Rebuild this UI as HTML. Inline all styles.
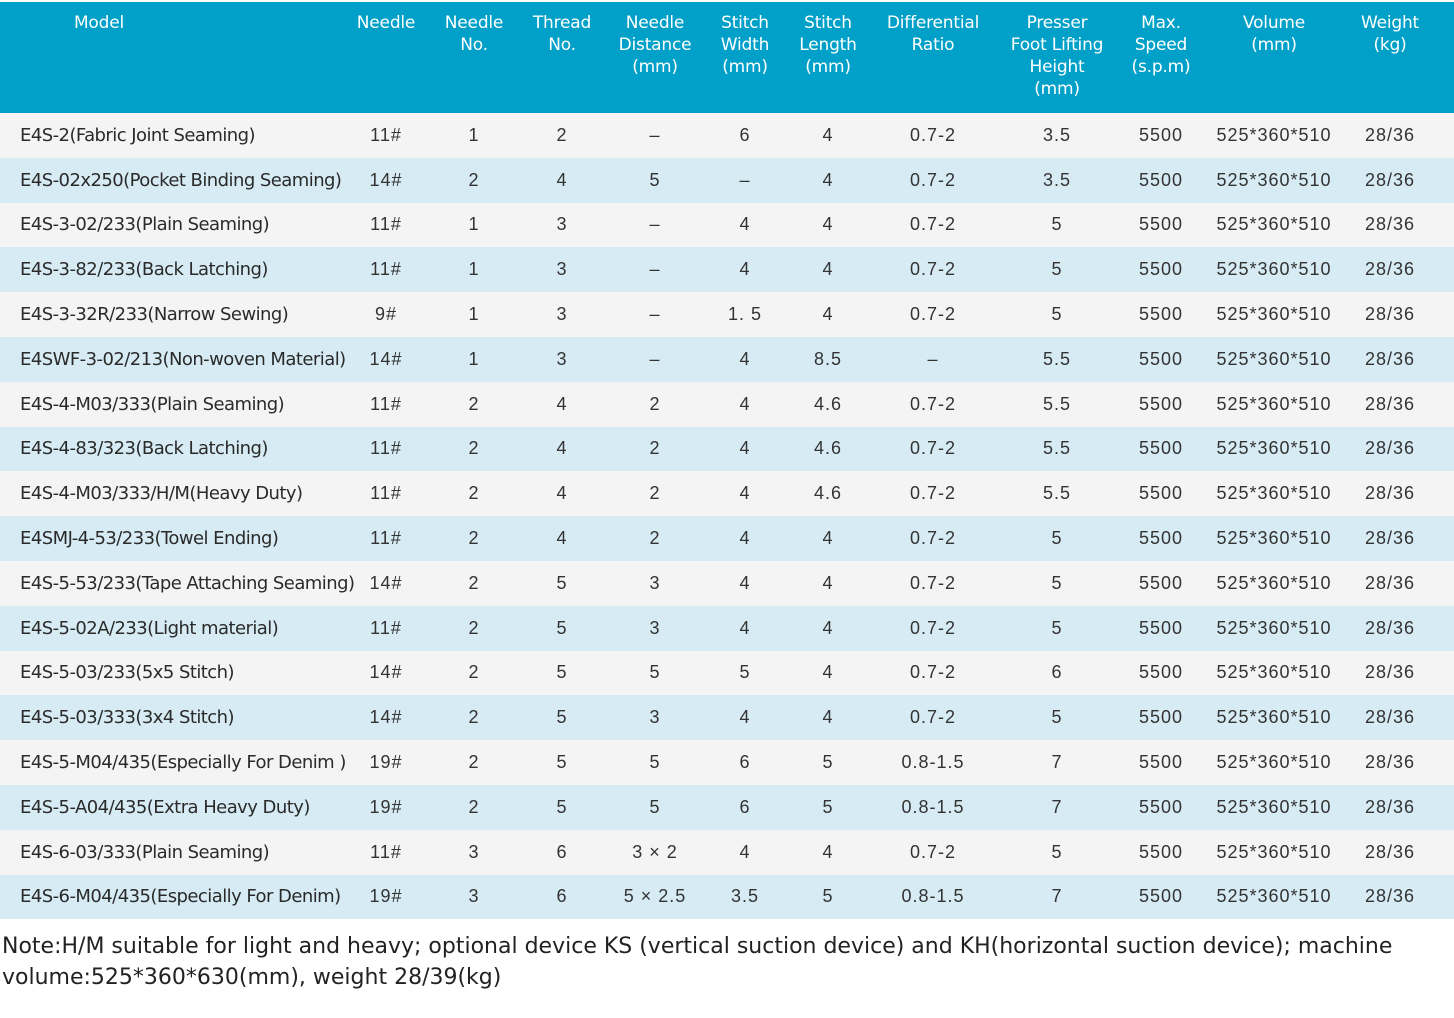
<!DOCTYPE html>
<html><head><meta charset="utf-8"><style>
html,body{margin:0;padding:0;background:#fff;width:1454px;height:1018px;overflow:hidden}
table{border-collapse:collapse;table-layout:fixed;width:1454px;margin-top:2px;font-family:"Liberation Sans","DejaVu Sans",sans-serif}
th{background:#00a0c8;color:#fff;font-weight:normal;font-size:17px;line-height:22px;vertical-align:top;padding:10px 0 0;height:101px;text-align:center;font-family:"DejaVu Sans","Liberation Sans",sans-serif;letter-spacing:-0.2px}
td{height:44.8px;padding:0;text-align:center;font-size:18px;letter-spacing:1px;color:#333;white-space:nowrap}
td.m{text-align:left;padding-left:20px;font-family:"DejaVu Sans","Liberation Sans",sans-serif;font-size:18px;letter-spacing:-0.55px;color:#2a2a2a}
tr:nth-child(odd) td{background:#f4f4f4}
tr:nth-child(even) td{background:#d6ebf3}
.note{font-family:"DejaVu Sans","Liberation Sans",sans-serif;font-size:22px;line-height:31px;color:#222;padding:12px 0 0 2px;letter-spacing:0px;width:1440px}
</style></head><body>
<table>
<colgroup><col style="width:342px"><col style="width:88px"><col style="width:88px"><col style="width:88px"><col style="width:98px"><col style="width:82px"><col style="width:84px"><col style="width:126px"><col style="width:122px"><col style="width:86px"><col style="width:140px"><col style="width:92px"><col style="width:38px"></colgroup>
<thead><tr><th><span style="position:relative;left:-72px">Model</span></th><th>Needle</th><th>Needle<br>No.</th><th>Thread<br>No.</th><th>Needle<br>Distance<br>(mm)</th><th>Stitch<br>Width<br>(mm)</th><th>Stitch<br>Length<br>(mm)</th><th>Differential<br>Ratio</th><th>Presser<br>Foot Lifting<br>Height<br>(mm)</th><th>Max.<br>Speed<br>(s.p.m)</th><th>Volume<br>(mm)</th><th>Weight<br>(kg)</th><th></th></tr></thead>
<tbody>
<tr><td class="m">E4S-2(Fabric Joint Seaming)</td><td>11#</td><td>1</td><td>2</td><td>–</td><td>6</td><td>4</td><td>0.7-2</td><td>3.5</td><td>5500</td><td>525*360*510</td><td>28/36</td><td></td></tr>
<tr><td class="m">E4S-02x250(Pocket Binding Seaming)</td><td>14#</td><td>2</td><td>4</td><td>5</td><td>–</td><td>4</td><td>0.7-2</td><td>3.5</td><td>5500</td><td>525*360*510</td><td>28/36</td><td></td></tr>
<tr><td class="m">E4S-3-02/233(Plain Seaming)</td><td>11#</td><td>1</td><td>3</td><td>–</td><td>4</td><td>4</td><td>0.7-2</td><td>5</td><td>5500</td><td>525*360*510</td><td>28/36</td><td></td></tr>
<tr><td class="m">E4S-3-82/233(Back Latching)</td><td>11#</td><td>1</td><td>3</td><td>–</td><td>4</td><td>4</td><td>0.7-2</td><td>5</td><td>5500</td><td>525*360*510</td><td>28/36</td><td></td></tr>
<tr><td class="m">E4S-3-32R/233(Narrow Sewing)</td><td>9#</td><td>1</td><td>3</td><td>–</td><td>1. 5</td><td>4</td><td>0.7-2</td><td>5</td><td>5500</td><td>525*360*510</td><td>28/36</td><td></td></tr>
<tr><td class="m">E4SWF-3-02/213(Non-woven Material)</td><td>14#</td><td>1</td><td>3</td><td>–</td><td>4</td><td>8.5</td><td>–</td><td>5.5</td><td>5500</td><td>525*360*510</td><td>28/36</td><td></td></tr>
<tr><td class="m">E4S-4-M03/333(Plain Seaming)</td><td>11#</td><td>2</td><td>4</td><td>2</td><td>4</td><td>4.6</td><td>0.7-2</td><td>5.5</td><td>5500</td><td>525*360*510</td><td>28/36</td><td></td></tr>
<tr><td class="m">E4S-4-83/323(Back Latching)</td><td>11#</td><td>2</td><td>4</td><td>2</td><td>4</td><td>4.6</td><td>0.7-2</td><td>5.5</td><td>5500</td><td>525*360*510</td><td>28/36</td><td></td></tr>
<tr><td class="m">E4S-4-M03/333/H/M(Heavy Duty)</td><td>11#</td><td>2</td><td>4</td><td>2</td><td>4</td><td>4.6</td><td>0.7-2</td><td>5.5</td><td>5500</td><td>525*360*510</td><td>28/36</td><td></td></tr>
<tr><td class="m">E4SMJ-4-53/233(Towel Ending)</td><td>11#</td><td>2</td><td>4</td><td>2</td><td>4</td><td>4</td><td>0.7-2</td><td>5</td><td>5500</td><td>525*360*510</td><td>28/36</td><td></td></tr>
<tr><td class="m">E4S-5-53/233(Tape Attaching Seaming)</td><td>14#</td><td>2</td><td>5</td><td>3</td><td>4</td><td>4</td><td>0.7-2</td><td>5</td><td>5500</td><td>525*360*510</td><td>28/36</td><td></td></tr>
<tr><td class="m">E4S-5-02A/233(Light material)</td><td>11#</td><td>2</td><td>5</td><td>3</td><td>4</td><td>4</td><td>0.7-2</td><td>5</td><td>5500</td><td>525*360*510</td><td>28/36</td><td></td></tr>
<tr><td class="m">E4S-5-03/233(5x5 Stitch)</td><td>14#</td><td>2</td><td>5</td><td>5</td><td>5</td><td>4</td><td>0.7-2</td><td>6</td><td>5500</td><td>525*360*510</td><td>28/36</td><td></td></tr>
<tr><td class="m">E4S-5-03/333(3x4 Stitch)</td><td>14#</td><td>2</td><td>5</td><td>3</td><td>4</td><td>4</td><td>0.7-2</td><td>5</td><td>5500</td><td>525*360*510</td><td>28/36</td><td></td></tr>
<tr><td class="m">E4S-5-M04/435(Especially For Denim )</td><td>19#</td><td>2</td><td>5</td><td>5</td><td>6</td><td>5</td><td>0.8-1.5</td><td>7</td><td>5500</td><td>525*360*510</td><td>28/36</td><td></td></tr>
<tr><td class="m">E4S-5-A04/435(Extra Heavy Duty)</td><td>19#</td><td>2</td><td>5</td><td>5</td><td>6</td><td>5</td><td>0.8-1.5</td><td>7</td><td>5500</td><td>525*360*510</td><td>28/36</td><td></td></tr>
<tr><td class="m">E4S-6-03/333(Plain Seaming)</td><td>11#</td><td>3</td><td>6</td><td>3 × 2</td><td>4</td><td>4</td><td>0.7-2</td><td>5</td><td>5500</td><td>525*360*510</td><td>28/36</td><td></td></tr>
<tr><td class="m">E4S-6-M04/435(Especially For Denim)</td><td>19#</td><td>3</td><td>6</td><td>5 × 2.5</td><td>3.5</td><td>5</td><td>0.8-1.5</td><td>7</td><td>5500</td><td>525*360*510</td><td>28/36</td><td></td></tr>
</tbody></table>
<div class="note">Note:H/M suitable for light and heavy; optional device KS (vertical suction device) and KH(horizontal suction device); machine volume:525*360*630(mm), weight 28/39(kg)</div>
</body></html>
